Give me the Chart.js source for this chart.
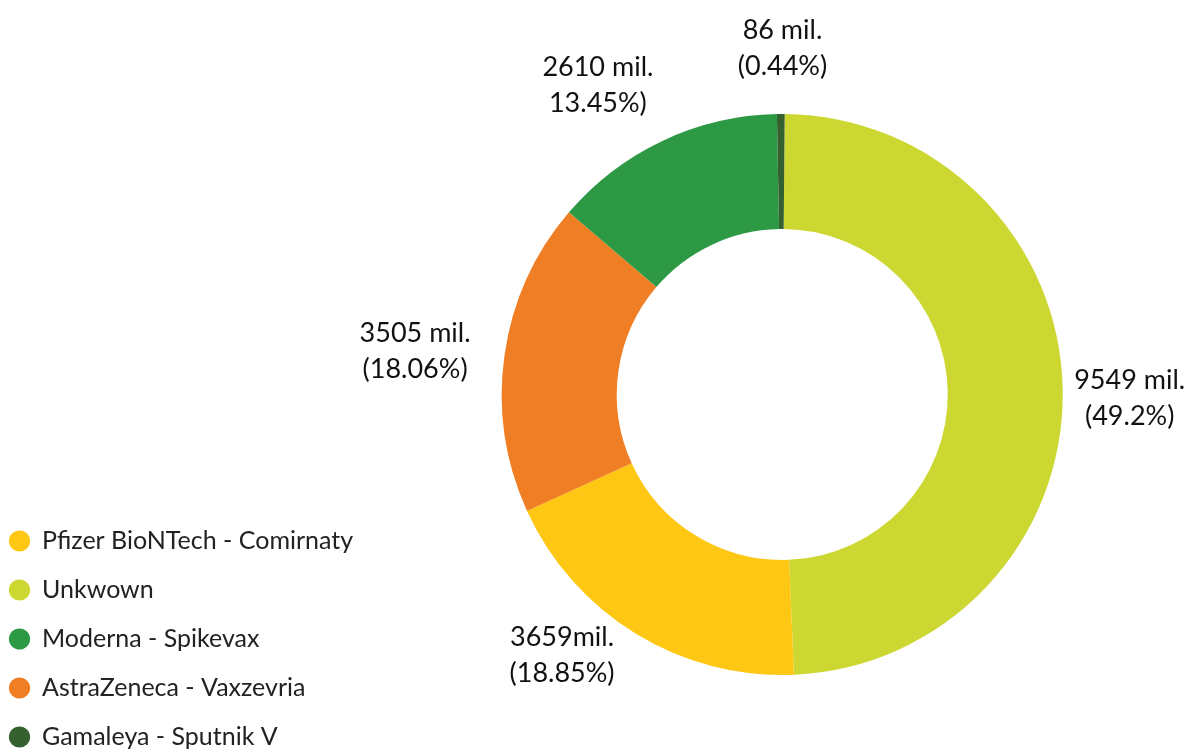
<!DOCTYPE html>
<html>
<head>
<meta charset="utf-8">
<script src="https://cdn.jsdelivr.net/npm/chart.js@4.4.0/dist/chart.umd.min.js"></script>
<style>
  html, body { margin: 0; padding: 0; background: #fff; }
  #wrap { width: 1202px; height: 749px; position: relative; }
</style>
</head>
<body>
<div id="wrap"><canvas id="vaccineChart"></canvas></div>
<script>
// slices in drawing order, clockwise from 12 o'clock
const vaccines = ['Unkwown', 'Pfizer BioNTech - Comirnaty', 'AstraZeneca - Vaxzevria', 'Moderna - Spikevax', 'Gamaleya - Sputnik V'];
const doses = [9549, 3659, 3505, 2610, 86];
const doseLabels = ['9549 mil.', '3659mil.', '3505 mil.', '2610 mil.', '86 mil.'];
const shareLabels = ['(49.2%)', '(18.85%)', '(18.06%)', '13.45%)', '(0.44%)'];
// legend lists the vaccines in this order
const legendOrder = ['Pfizer BioNTech - Comirnaty', 'Unkwown', 'Moderna - Spikevax', 'AstraZeneca - Vaxzevria', 'Gamaleya - Sputnik V'];

const colors = ['#cdd732', '#fec713', '#f07e24', '#2e9945', '#356130'];
// small hand nudges for the outside labels
const labelNudge = [[5, 9], [-41, -31], [-28, 4], [-38, 0], [2, -4]];

const sliceLabels = {
  id: 'sliceLabels',
  afterDatasetsDraw(chart) {
    const ctx = chart.ctx;
    const arcs = chart.getDatasetMeta(0).data;
    ctx.save();
    ctx.font = '27px Lato, sans-serif';
    ctx.fillStyle = '#111';
    ctx.textAlign = 'center';
    ctx.textBaseline = 'middle';
    arcs.forEach((arc, i) => {
      const p = arc.getProps(['x', 'y', 'startAngle', 'endAngle', 'outerRadius']);
      const mid = (p.startAngle + p.endAngle) / 2;
      const r = p.outerRadius + 62;
      const x = p.x + Math.cos(mid) * r + labelNudge[i][0];
      const y = p.y + Math.sin(mid) * r + labelNudge[i][1];
      ctx.fillText(doseLabels[i], x, y - 18);
      ctx.fillText(shareLabels[i], x, y + 18);
    });
    ctx.restore();
  }
};

const ctx = document.getElementById('vaccineChart').getContext('2d');
new Chart(ctx, {
  type: 'doughnut',
  data: {
    labels: vaccines,
    datasets: [{
      data: doses,
      backgroundColor: colors,
      borderWidth: 0
    }]
  },
  options: {
    responsive: true,
    maintainAspectRatio: false,
    animation: false,
    radius: 280.5,
    cutout: '59%',
    rotation: 0.5,
    layout: {
      // chart area gets clamped to the canvas, the legend does not
      padding: { left: -14.5, top: 40, right: 0, bottom: -24.5 }
    },
    plugins: {
      tooltip: { enabled: false },
      legend: {
        position: 'left',
        align: 'end',
        maxWidth: 377,
        labels: {
          usePointStyle: true,
          pointStyle: 'circle',
          boxWidth: 20,
          boxHeight: 15,
          padding: 24,
          color: '#222',
          font: { family: 'Lato, sans-serif', size: 25 },
          sort: (a, b) => legendOrder.indexOf(a.text) - legendOrder.indexOf(b.text)
        }
      }
    }
  },
  plugins: [sliceLabels]
});
</script>
</body>
</html>
